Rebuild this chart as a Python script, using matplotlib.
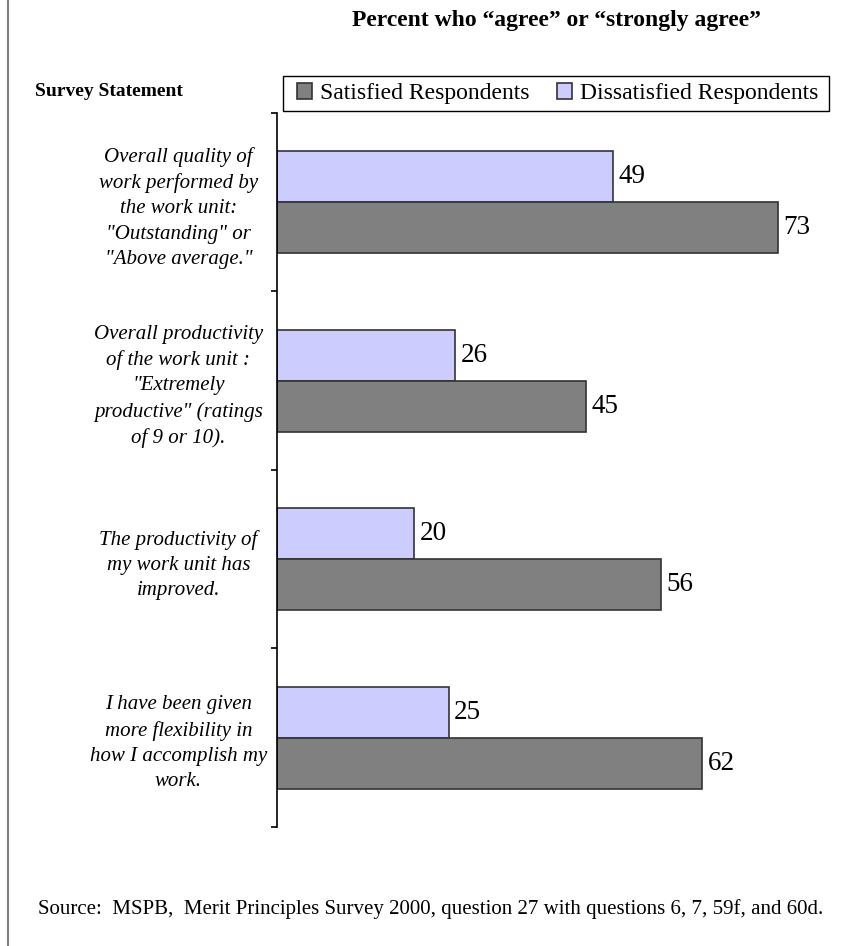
import matplotlib.pyplot as plt
from matplotlib.lines import Line2D
from matplotlib.patches import Rectangle

statements = [
    'Overall quality of\nwork performed by\nthe work unit:\n"Outstanding" or\n"Above average."',
    'Overall productivity\nof the work unit :\n"Extremely\nproductive" (ratings\nof 9 or 10).',
    'The productivity of\nmy work unit has\nimproved.',
    'I have been given\nmore flexibility in\nhow I accomplish my\nwork.',
]
satisfied = [73, 45, 56, 62]
dissatisfied = [49, 26, 20, 25]

plt.rcParams['font.family'] = ['Liberation Serif', 'DejaVu Serif']

fig = plt.figure(figsize=(8.62, 9.46), dpi=100)
ax = fig.add_axes([0.3213, 0.1258, 0.6369, 0.7548])

pos = list(range(len(statements)))
h = 0.286
edge = '#333333'

# dissatisfied bar sits above, satisfied below
b_dis = ax.barh([p - h / 2 for p in pos], dissatisfied, height=h, color='#ccccff',
                edgecolor=edge, linewidth=1.2, label='Dissatisfied Respondents')
b_sat = ax.barh([p + h / 2 for p in pos], satisfied, height=h, color='#808080',
                edgecolor=edge, linewidth=1.2, label='Satisfied Respondents')

ax.bar_label(b_dis, padding=4, fontsize=19.5)
ax.bar_label(b_sat, padding=4, fontsize=19.5)

ax.set_xlim(0, 80)
ax.set_ylim(3.5, -0.5)

# ticks at the group boundaries, labels at the group centres
ax.set_yticks([p - 0.5 for p in pos] + [pos[-1] + 0.5])
ax.set_yticklabels([])
ax.set_yticks(pos, minor=True)
ax.set_yticklabels(statements, minor=True, fontsize=15, style='italic',
                   ha='center', multialignment='center', linespacing=1.44)
ax.tick_params(axis='y', which='major', direction='out', length=4, width=1.2)
ax.tick_params(axis='y', which='minor', length=0, pad=71)

ax.set_xticks([])
for s in ['top', 'right', 'bottom']:
    ax.spines[s].set_visible(False)
ax.spines['left'].set_linewidth(1.2)

# legend entries without their own frame; the box is drawn separately
handles = [b_sat, b_dis]
fig.legend(handles, [hd.get_label() for hd in handles], loc='center left',
           bbox_to_anchor=(297 / 862, 1 - 93.5 / 946), ncol=2, fontsize=17,
           frameon=False, handlelength=0.64, handleheight=0.64, handletextpad=0.35,
           columnspacing=1.15, borderpad=0, borderaxespad=0)
fig.add_artist(Rectangle((283 / 862, 1 - 111 / 946), 546 / 862, 35 / 946,
                         transform=fig.transFigure, fill=False,
                         edgecolor='black', linewidth=1.0))

fig.text(0.646, 0.978, 'Percent who \u201cagree\u201d or \u201cstrongly agree\u201d',
         ha='center', va='center', fontsize=17, fontweight='bold')
fig.text(0.041, 0.903, 'Survey Statement', ha='left', va='center',
         fontsize=14, fontweight='bold')
fig.text(0.5, 0.039,
         'Source:  MSPB,  Merit Principles Survey 2000, question 27 with questions 6, 7, 59f, and 60d.',
         ha='center', va='center', fontsize=15)

# thin frame line at the left edge of the page
fig.add_artist(Line2D([0.009, 0.009], [0, 1], transform=fig.transFigure,
                      color='#808080', linewidth=1.5))

fig.savefig('out.png', dpi=100)
